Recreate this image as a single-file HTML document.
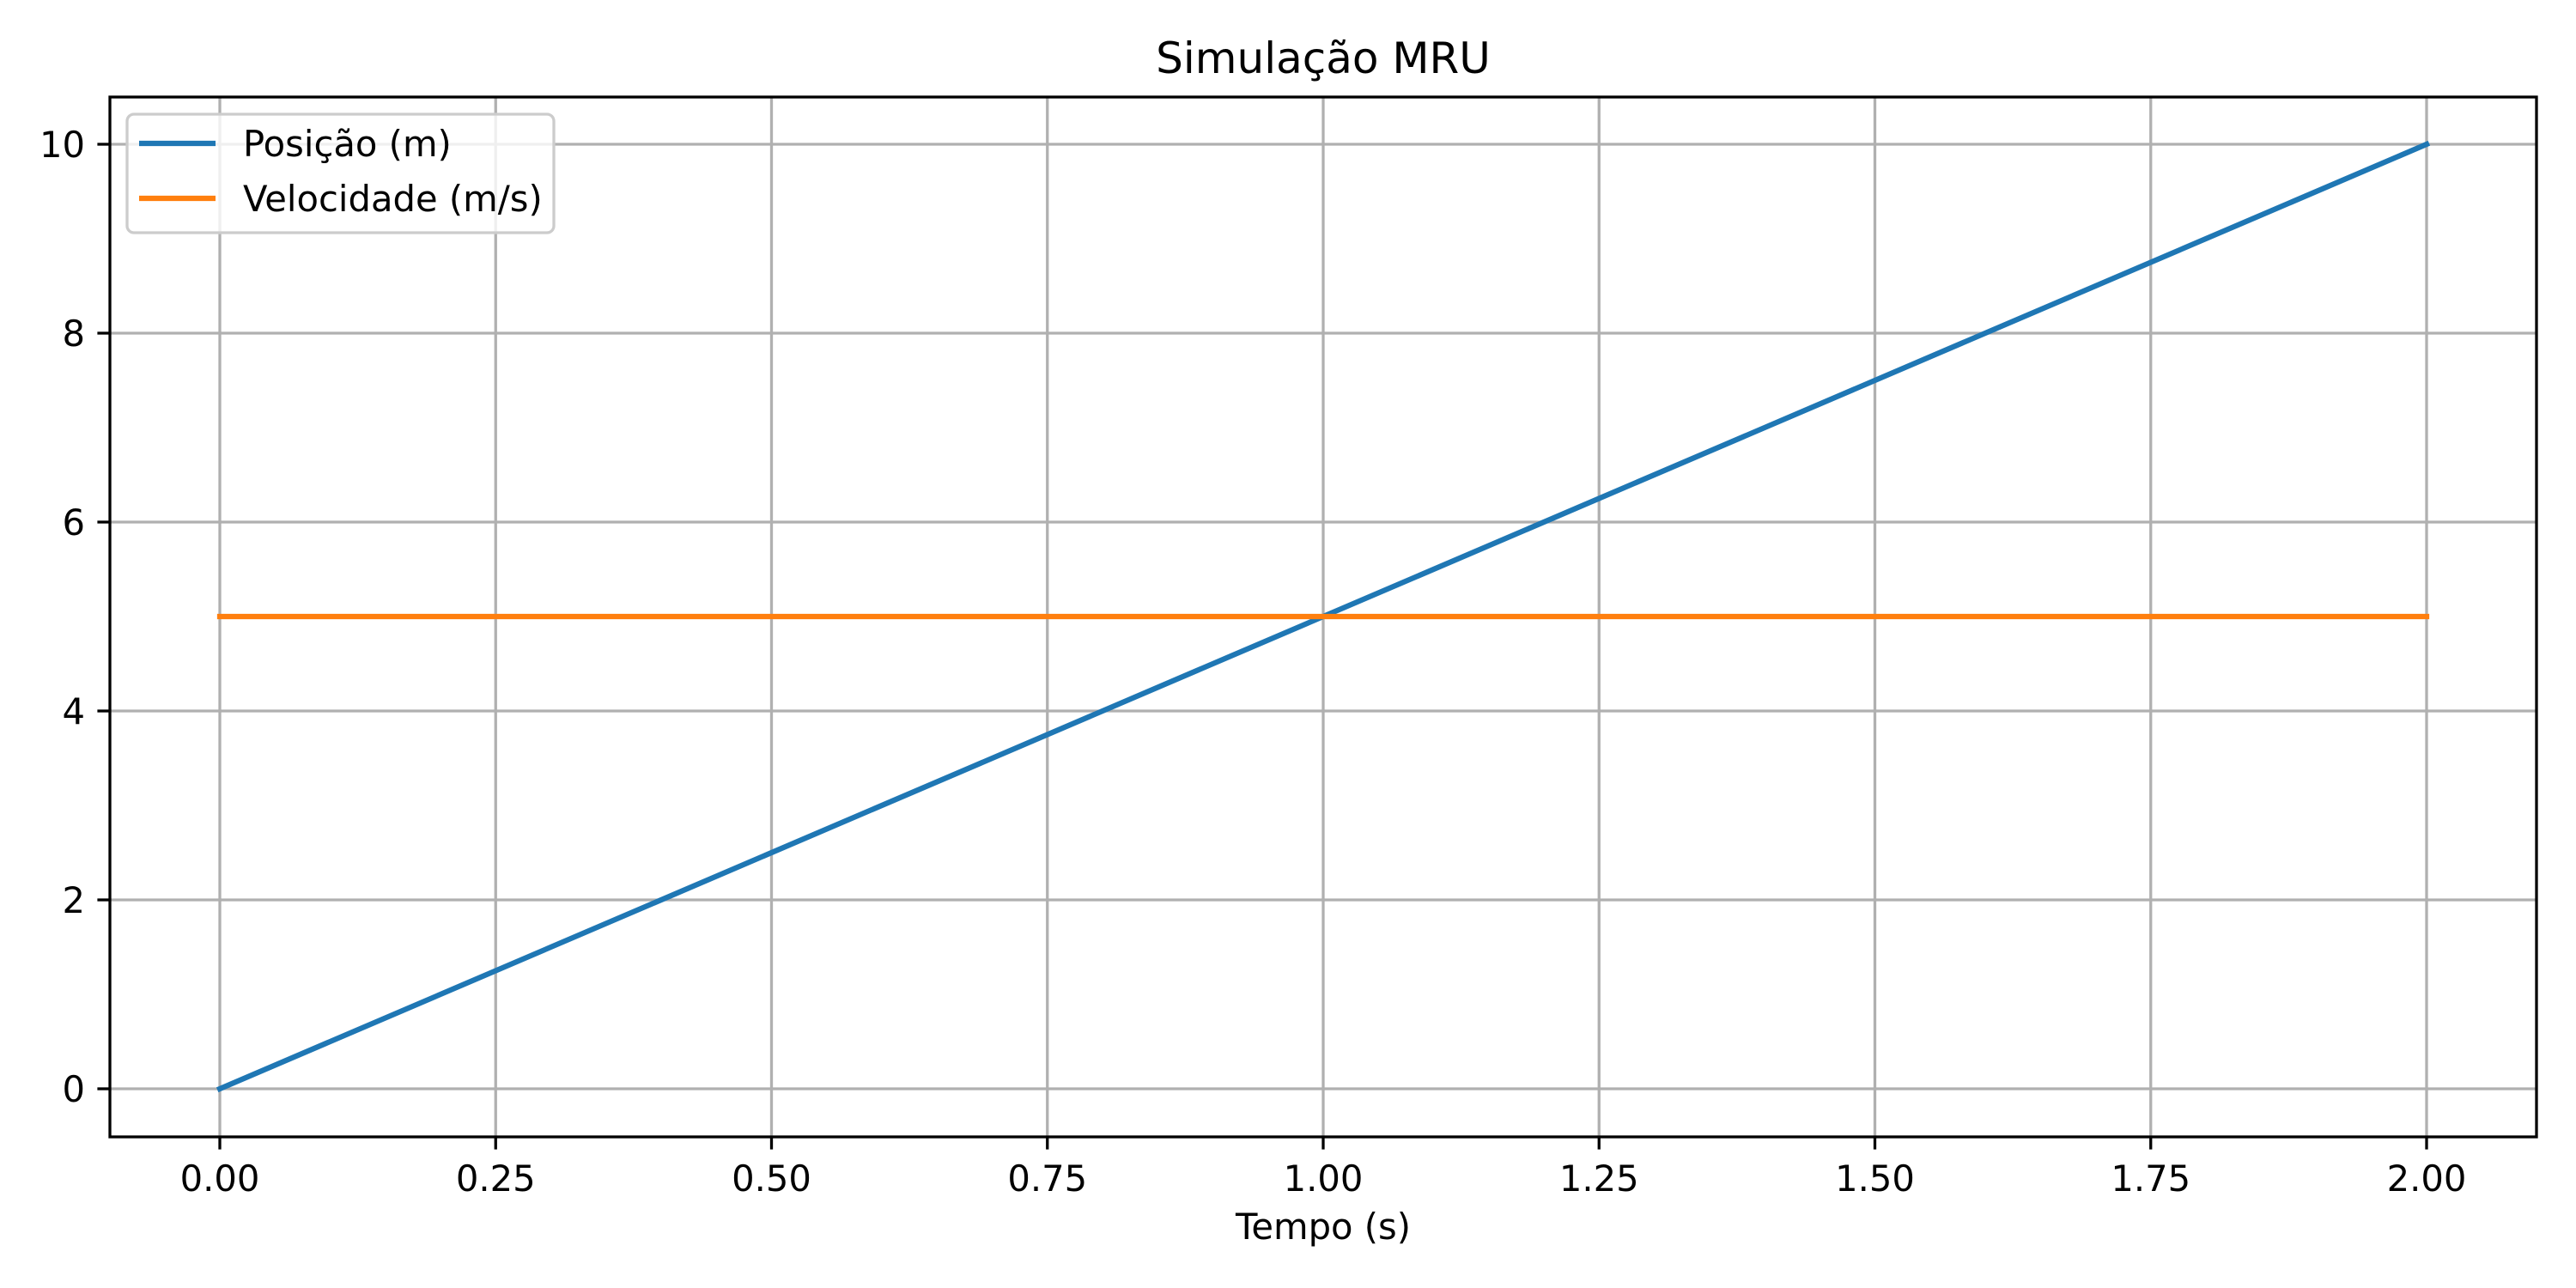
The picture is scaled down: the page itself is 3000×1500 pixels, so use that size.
<!DOCTYPE html>
<html><head><meta charset="utf-8"><style>body{margin:0;background:#fff}svg{display:block}text{font-family:"DejaVu Sans","Liberation Sans",sans-serif;fill:#000}</style></head>
<body>
<svg id="chart" width="3000" height="1500" viewBox="0 0 3000 1500" xmlns="http://www.w3.org/2000/svg"></svg>
<script>
const tVals=[0,2];
const posVals=[0,10];
const velVals=[5,5];
const xTicks=[0,0.25,0.5,0.75,1,1.25,1.5,1.75,2];
const xTickLabels=["0.00","0.25","0.50","0.75","1.00","1.25","1.50","1.75","2.00"];
const yTicks=[0,2,4,6,8,10];
const yTickLabels=["0","2","4","6","8","10"];
const L=128,R=2954,T=113,B=1324;
const sx=v=>256+(2826-256)*(v-0)/2;
const sy=v=>1268-(1268-168)*v/10;
const NS="http://www.w3.org/2000/svg";
const svg=document.getElementById('chart');
function mk(tag,attrs,parent){const e=document.createElementNS(NS,tag);for(const k in attrs)e.setAttribute(k,attrs[k]);(parent||svg).appendChild(e);return e;}
const grid=mk('g',{});


xTicks.forEach((v,i)=>{
 const g=mk('line',{x1:sx(v),x2:sx(v),y1:T,y2:B,stroke:'#b0b0b0','stroke-width':3.3},grid);
 
 
 const tk=mk('line',{x1:sx(v),x2:sx(v),y1:B,y2:B+14.6,stroke:'#000','stroke-width':3.3});
 
 
 const t=mk('text',{x:sx(v),y:1387,'font-size':41.7,'text-anchor':'middle'});
 t.textContent=xTickLabels[i];
 
 
});
yTicks.forEach((v,i)=>{
 const g=mk('line',{x1:L,x2:R,y1:sy(v),y2:sy(v),stroke:'#b0b0b0','stroke-width':3.3},grid);
 
 
 const tk=mk('line',{x1:L-14.6,x2:L,y1:sy(v),y2:sy(v),stroke:'#000','stroke-width':3.3});
 
 
 const t=mk('text',{x:99,y:sy(v)+15,'font-size':41.7,'text-anchor':'end'});
 t.textContent=yTickLabels[i];
 
 
});
const p1=mk('polyline',{points:tVals.map((t,i)=>sx(t)+','+sy(posVals[i])).join(' '),fill:'none',stroke:'#1f77b4','stroke-width':6.25,'stroke-linecap':'square'});


const p2=mk('polyline',{points:tVals.map((t,i)=>sx(t)+','+sy(velVals[i])).join(' '),fill:'none',stroke:'#ff7f0e','stroke-width':6.25,'stroke-linecap':'square'});


const fr=mk('rect',{x:L,y:T,width:R-L,height:B-T,fill:'none',stroke:'#000','stroke-width':3.3});


const ti=mk('text',{x:(L+R)/2,y:85,'font-size':50,'text-anchor':'middle'});
ti.textContent='Simulação MRU';


const xl=mk('text',{x:(L+R)/2,y:1443,'font-size':41.7,'text-anchor':'middle'});
xl.textContent='Tempo (s)';


const lg=mk('g',{});


mk('rect',{x:148,y:133,width:497,height:138,rx:8,fill:'#fff','fill-opacity':0.8,stroke:'#cccccc','stroke-width':3.3},lg);
[['Posição (m)','#1f77b4',167],['Velocidade (m/s)','#ff7f0e',231]].forEach(([lab,c,y])=>{
 const e=mk('g',{},lg);
 
 
 mk('line',{x1:162,x2:251,y1:y,y2:y,stroke:c,'stroke-width':6.25},e);
 const t=mk('text',{x:283,y:y+15,'font-size':41.7},e);
 t.textContent=lab;
});
</script>
</body></html>
